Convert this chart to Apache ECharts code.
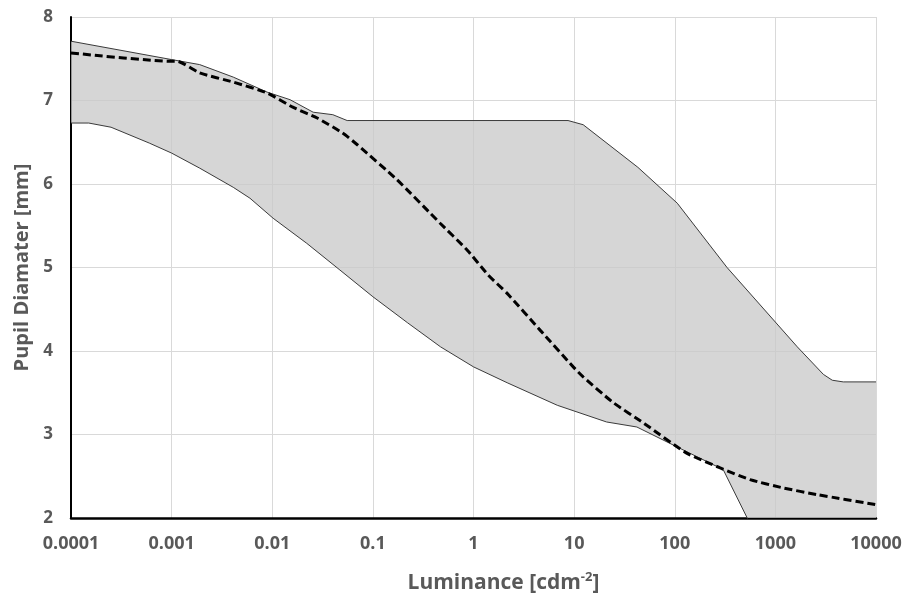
<!DOCTYPE html>
<html>
<head>
<meta charset="utf-8">
<title>Pupil diameter vs luminance</title>
<script src="https://cdn.jsdelivr.net/npm/echarts@6/dist/echarts.min.js"></script>
<style>
  html, body { margin: 0; padding: 0; background: #fff; }
  #main { width: 903px; height: 593px; }
</style>
</head>
<body>
<div id="main"></div>
<script>
// luminance [cd/m2] , pupil diameter [mm]
var upperCurve = [
  [0.0001, 7.71], [0.001, 7.49], [0.0019, 7.43], [0.0041, 7.28], [0.0089, 7.10],
  [0.015, 7.01], [0.0255, 6.86], [0.04, 6.83], [0.0555, 6.76], [8.7, 6.76],
  [12.3, 6.71], [43, 6.20], [106, 5.77], [331, 5.0], [1650, 4.05],
  [3000, 3.72], [3675, 3.65], [4725, 3.63], [10000, 3.63]
];
var lowerCurve = [
  [0.0001, 6.73], [0.00015, 6.73], [0.00025, 6.68], [0.0006, 6.49], [0.001, 6.37],
  [0.0019, 6.19], [0.0041, 5.96], [0.006, 5.83], [0.0102, 5.59], [0.022, 5.29],
  [0.047, 4.97], [0.1, 4.65], [0.22, 4.34], [0.47, 4.05], [1, 3.81],
  [2.16, 3.62], [6.8, 3.35], [21, 3.15], [42, 3.09], [106, 2.85],
  [303, 2.58], [525, 2.0], [1000, 1.33], [10000, 0.5]
];
var meanCurve = [
  [0.0001, 7.57], [0.001, 7.47], [0.00113, 7.47], [0.0019, 7.33], [0.0041, 7.22],
  [0.0089, 7.09], [0.016, 6.92], [0.028, 6.79], [0.05, 6.61], [0.07, 6.47],
  [0.174, 6.05], [0.466, 5.53], [0.863, 5.21], [1.4, 4.91], [2.16, 4.69],
  [4.59, 4.25], [9.8, 3.81], [12.3, 3.69], [24, 3.39], [50, 3.13],
  [130, 2.78], [283, 2.60], [561, 2.46], [1197, 2.36], [2605, 2.28], [10000, 2.16]
];
var xTickLabels = ['0.0001', '0.001', '0.01', '0.1', '1', '10', '100', '1000', '10000'];

var chart = echarts.init(document.getElementById('main'));

var option = {
  backgroundColor: '#ffffff',
  animation: false,
  grid: { left: 71, right: 27, top: 17, bottom: 75, containLabel: false, outerBoundsMode: 'none' },
  xAxis: {
    type: 'log',
    logBase: 10,
    min: 0.0001,
    max: 10000,
    name: 'Luminance [cdm{sup|-2}]',
    nameLocation: 'middle',
    nameGap: 53,
    nameTextStyle: {
      color: '#595959', fontSize: 21, fontWeight: 'bold', fontFamily: 'Open Sans',
      padding: [0, 0, 0, 60],
      rich: { sup: { color: '#595959', fontSize: 13, fontWeight: 'bold', fontFamily: 'Open Sans', verticalAlign: 'top', padding: [0, 0, 11, 0] } }
    },
    axisLine: { lineStyle: { color: '#000', width: 2.5 } },
    axisTick: { show: false },
    minorTick: { show: false },
    axisLabel: {
      color: '#595959', fontSize: 18, fontWeight: 'bold', fontFamily: 'Open Sans', margin: 17,
      formatter: function (v) {
        var i = Math.round(Math.log10(v)) + 4;
        return xTickLabels[i] || '';
      }
    },
    splitLine: { show: true, lineStyle: { color: '#d9d9d9', width: 1 } }
  },
  yAxis: {
    type: 'value',
    min: 2,
    max: 8,
    interval: 1,
    name: 'Pupil Diamater [mm]',
    nameLocation: 'middle',
    nameGap: 38,
    nameTextStyle: { color: '#595959', fontSize: 20, fontWeight: 'bold', fontFamily: 'Open Sans' },
    axisLine: { show: true, lineStyle: { color: '#000', width: 2 } },
    axisTick: { show: false },
    axisLabel: { color: '#595959', fontSize: 17, fontWeight: 'bold', fontFamily: 'Open Sans', margin: 18 },
    splitLine: { show: true, lineStyle: { color: '#d9d9d9', width: 1 } }
  },
  series: [
    {
      name: 'band',
      type: 'custom',
      clip: true,
      silent: true,
      data: [[1, 5]],
      renderItem: function (params, api) {
        var pts = [];
        for (var i = 0; i < upperCurve.length; i++) pts.push(api.coord(upperCurve[i]));
        for (var j = lowerCurve.length - 1; j >= 0; j--) pts.push(api.coord(lowerCurve[j]));
        return {
          type: 'polygon',
          shape: { points: pts },
          style: { fill: 'rgba(200,200,200,0.75)', stroke: 'none' }
        };
      },
      z: 1
    },
    {
      name: 'upper',
      type: 'line',
      data: upperCurve,
      showSymbol: false,
      lineStyle: { color: '#3a3a3a', width: 1 },
      z: 2
    },
    {
      name: 'lower',
      type: 'line',
      data: lowerCurve,
      showSymbol: false,
      lineStyle: { color: '#3a3a3a', width: 1 },
      z: 2
    },
    {
      name: 'mean',
      type: 'line',
      data: meanCurve,
      showSymbol: false,
      smooth: 0.2,
      lineStyle: { color: '#000', width: 3, type: [8, 4] },
      z: 3
    }
  ]
};

chart.setOption(option);
</script>
</body>
</html>
